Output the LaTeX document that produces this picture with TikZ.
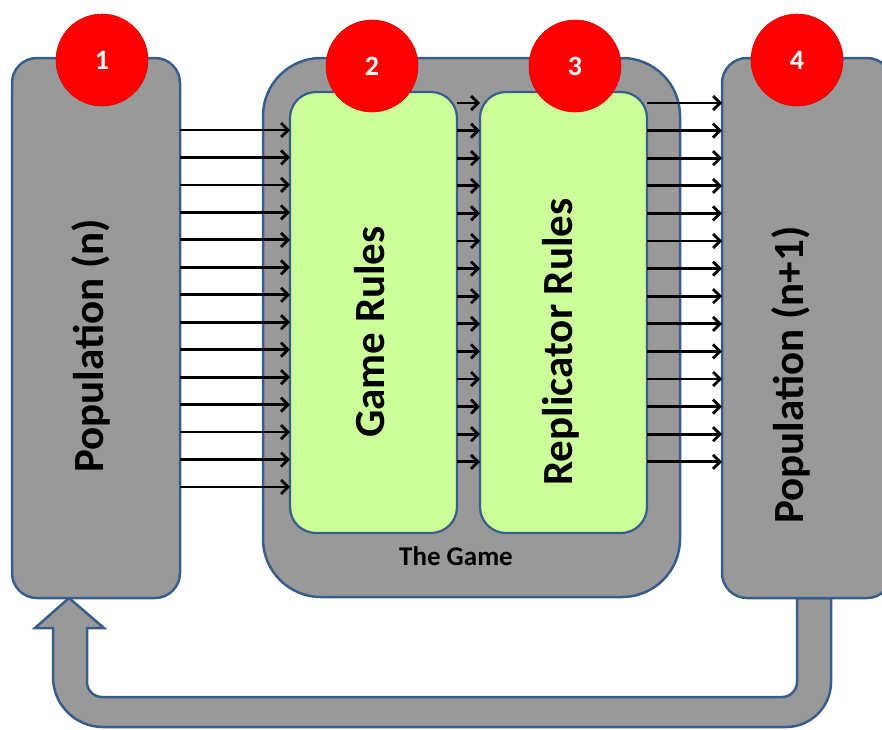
\documentclass[tikz,border=0pt]{standalone}
\usepackage{fontspec}
\setmainfont{Carlito}
\usetikzlibrary{arrows.meta}
\definecolor{boxgray}{HTML}{999999}
\definecolor{edgeblue}{HTML}{385D8A}
\definecolor{rulegreen}{HTML}{CCFF99}
\definecolor{badgered}{HTML}{FF0000}
\tikzset{
  graybox/.style={draw=edgeblue, fill=boxgray, line width=2.5pt, inner sep=0pt, outer sep=0pt},
  greenbox/.style={draw=edgeblue, fill=rulegreen, line width=2.2pt, inner sep=0pt, outer sep=0pt, rounded corners=26pt},
  badge/.style={circle, fill=badgered, draw=badgered!85!black, line width=0.6pt, minimum size=92pt, inner sep=0pt, text=white, font=\bfseries\fontsize{28}{28}\selectfont},
  biglabel/.style={rotate=90, font=\bfseries\fontsize{43}{43}\selectfont, text=black, inner sep=0pt},
  smalllabel/.style={font=\bfseries\fontsize{27}{27}\selectfont, text=black, inner sep=0pt},
  flow/.style={draw=black, line width=2.8pt, -{Straight Barb[length=7pt,width=14pt]}}
}
\begin{document}
\begin{tikzpicture}[x=1pt,y=-1pt]
\useasboundingbox (0,0) rectangle (882,729);
% feedback arrow
\path[graybox] (797,598) -- (797,682)
  .. controls (797,690.3) and (790.3,697) .. (782,697)
  -- (102,697)
  .. controls (93.7,697) and (87,690.3) .. (87,682)
  -- (87,628) -- (104,628) -- (69,598) -- (35,628) -- (53,628) -- (53,677)
  .. controls (53,704.6) and (75.4,727) .. (103,727)
  -- (786,727)
  .. controls (810.9,727) and (831,706.9) .. (831,682)
  -- (831,598) -- cycle;
% main boxes
\node[graybox, rounded corners=25pt, minimum width=168pt, minimum height=540pt] (popn) at (96,328) {};
\node[graybox, rounded corners=25pt, minimum width=170pt, minimum height=540pt] (popn1) at (807,328) {};
\node[graybox, rounded corners=58pt, minimum width=417pt, minimum height=539pt] (game) at (471.5,327.5) {};
\node[greenbox, minimum width=167pt, minimum height=441pt] (rules) at (373.5,312.5) {};
\node[greenbox, minimum width=167pt, minimum height=441pt] (repl) at (563.5,312.5) {};
% labels
\node[biglabel] (lpopn) at (91,346) {Population (n)};
\node[biglabel] (lrules) at (370,332) {Game Rules};
\node[biglabel] (lrepl) at (561,342) {Replicator Rules};
\node[biglabel] (lpopn1) at (791,375) {Population (n+1)};
\node[smalllabel] (lgame) at (456,556) {The Game};
% arrows
\foreach \i in {0,...,13}{
  \pgfmathsetmacro{\ya}{130+27.46*\i}
  \draw[flow] (popn.east |- 0,\ya) -- (rules.west |- 0,\ya);
  \pgfmathsetmacro{\yb}{103+27.6*\i}
  \draw[flow] (rules.east |- 0,\yb) -- (repl.west |- 0,\yb);
  \draw[flow] (repl.east |- 0,\yb) -- (popn1.west |- 0,\yb);
}
% badges
\node[badge] (b1) at (102,60) {1};
\node[badge] (b2) at (372,66) {2};
\node[badge] (b3) at (575,66) {3};
\node[badge] (b4) at (797,60) {4};
\end{tikzpicture}
\end{document}
